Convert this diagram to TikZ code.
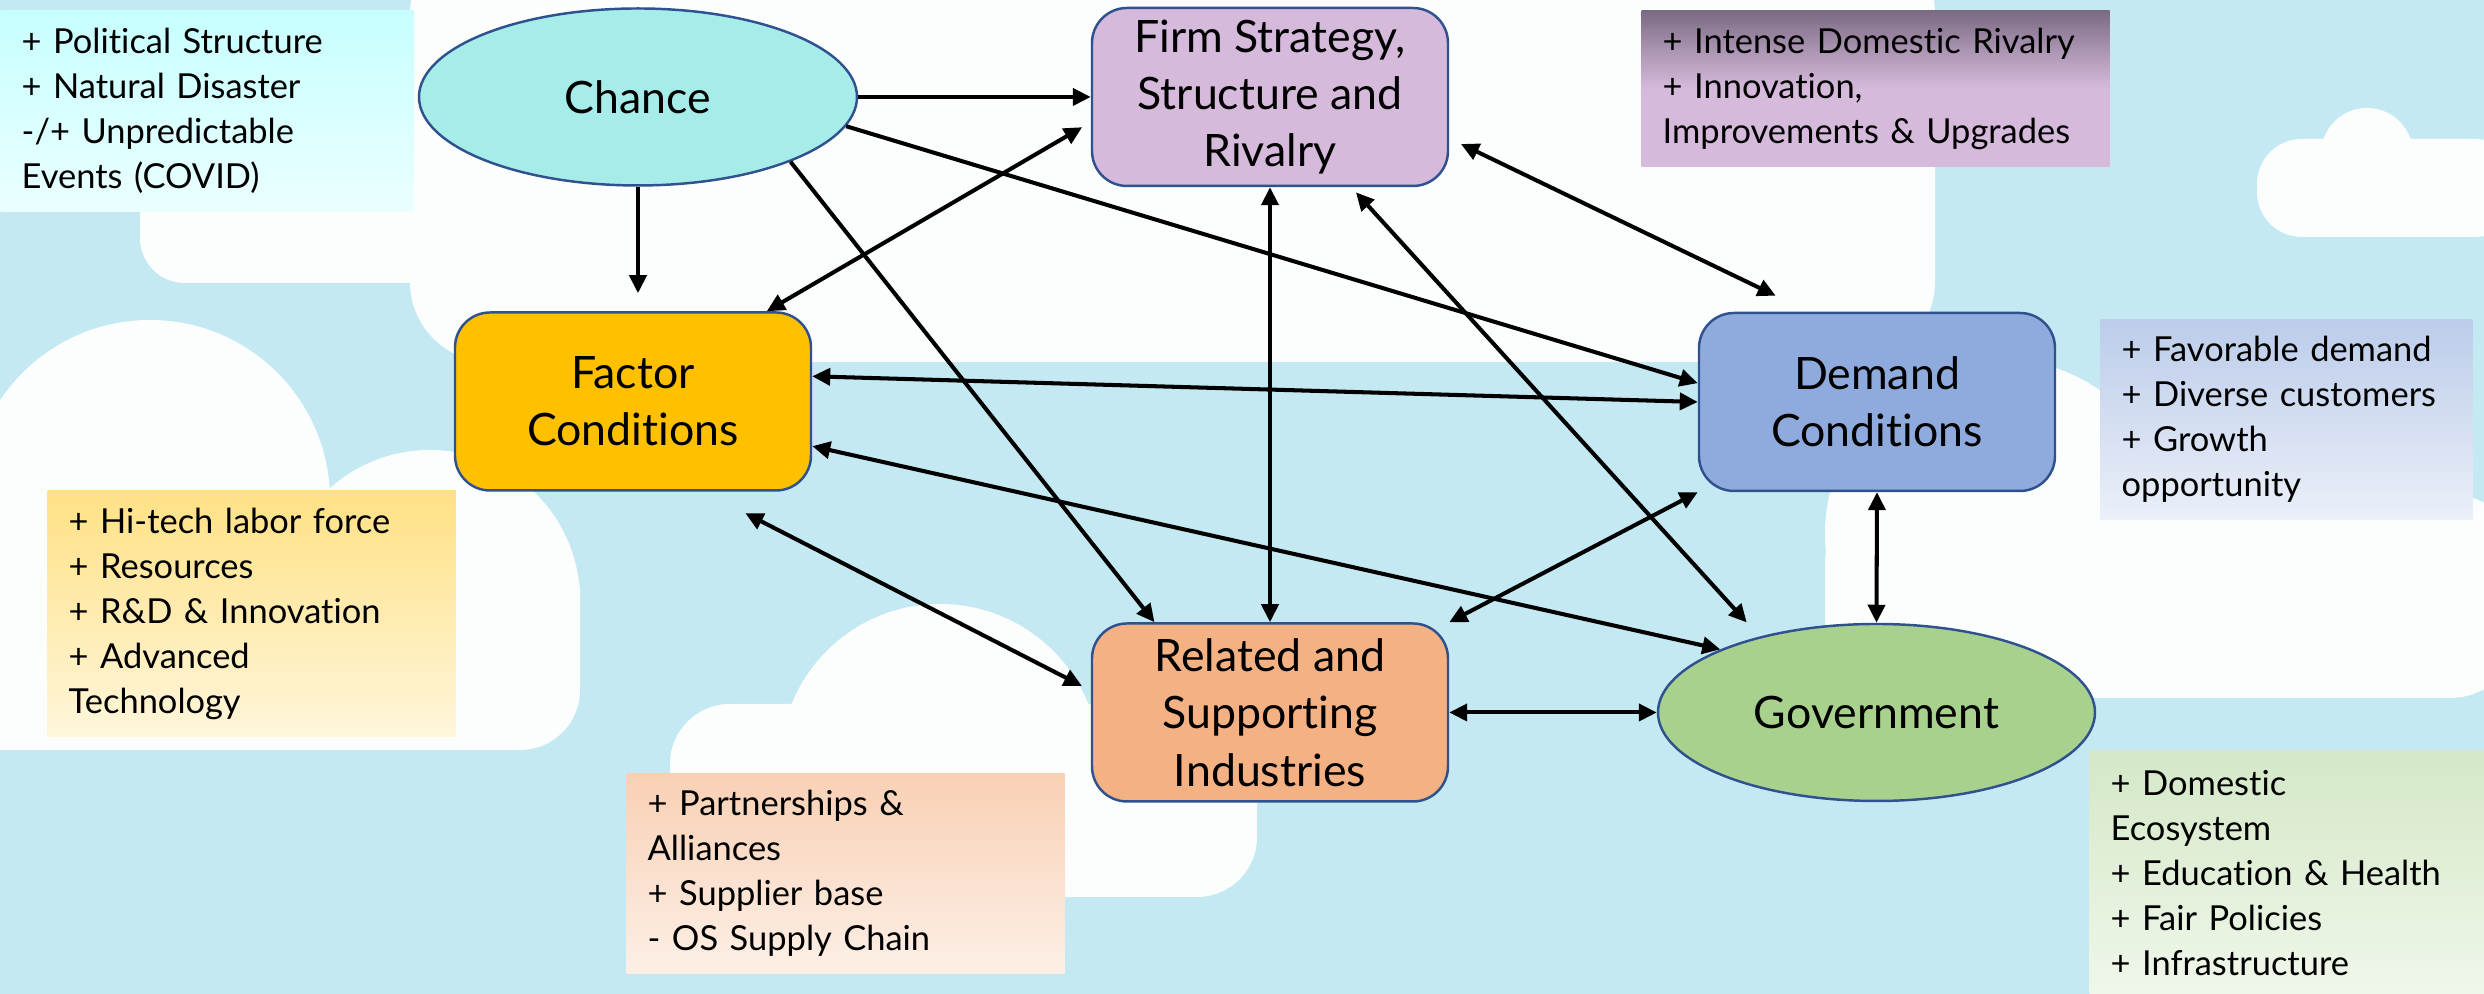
\documentclass[tikz,border=0pt]{standalone}
\usepackage{fontspec}
\setmainfont{Lato}[Ligatures=NoCommon]
\usepackage{tikz}
\usetikzlibrary{
  arrows.meta,
  shapes.geometric
}
\usepackage{xcolor}

\definecolor{skyblue}{RGB}{196,233,242}
\definecolor{cloudwhite}{RGB}{252,254,254}
\definecolor{edgeblue}{RGB}{47,82,143}
\definecolor{chanceaqua}{RGB}{166,236,233}
\definecolor{firmlilac}{RGB}{213,186,220}
\definecolor{firmdark}{RGB}{122,106,130}
\definecolor{factorgold}{RGB}{255,192,0}
\definecolor{demandblue}{RGB}{143,170,220}
\definecolor{relatedpeach}{RGB}{244,177,131}
\definecolor{govgreen}{RGB}{169,209,142}

% dark band along the top of the rivalry note, fading out by about a third
\pgfdeclareverticalshading{firmshade}{100bp}{
  color(0bp)=(firmlilac); color(50bp)=(firmlilac);
  color(62bp)=(firmlilac!55!firmdark); color(75bp)=(firmdark); color(100bp)=(firmdark)}

\newcommand\blockfont{\fontsize{12.7}{16.3}\selectfont}
\newcommand\notefont{\fontsize{9.8}{12.8}\selectfont}

\begin{document}
\begin{tikzpicture}[
  block/.style={draw=edgeblue, line width=0.7pt, rounded corners=0.35cm,
                minimum width=3.56cm, minimum height=1.78cm, inner sep=2pt,
                fill=#1, align=center, font=\blockfont},
  oval/.style={ellipse, draw=edgeblue, line width=0.7pt, minimum width=4.38cm,
               minimum height=1.77cm, fill=#1, font=\blockfont},
  note/.style={anchor=north west, inner xsep=0.21cm, inner ysep=0pt,
               align=left, font=\notefont},
  cloud/.style={fill=cloudwhite},
  arrow/.style={-{Triangle[length=0.18cm,width=0.17cm]}, line width=1.15pt},
  twoway/.style={{Triangle[length=0.18cm,width=0.17cm]}-{Triangle[length=0.18cm,width=0.17cm]},
                 line width=1.15pt},
]
  \useasboundingbox (0,0) rectangle (24.84,9.94);
  \fill[skyblue] (0,0) rectangle (24.84,9.94);

  % Clouds behind everything
  \fill[cloud, rounded corners=0.8cm] (4.1,10.6) rectangle (19.35,6.32);
  \fill[cloud] (1.5,4.94) circle (1.8) (4.3,3.94) circle (1.5);
  \fill[cloud, rounded corners=0.6cm] (-0.6,2.44) rectangle (5.8,4.6);
  \fill[cloud, rounded corners=0.45cm] (1.4,7.11) rectangle (4.6,8.6);
  \fill[cloud] (9.4,2.3) circle (1.6);
  \fill[cloud, rounded corners=0.6cm] (6.7,0.97) rectangle (12.57,2.9);
  \fill[cloud] (20.0,4.6) circle (1.75) (23.3,4.5) circle (1.3);
  \fill[cloud, rounded corners=0.7cm] (18.25,2.96) rectangle (25.2,5.0);
  \fill[cloud] (23.67,8.4) circle (0.46);
  \fill[cloud, rounded corners=0.45cm] (22.57,7.57) rectangle (25.2,8.55);

  % Side notes
  \node[note, top color=cyan!22, bottom color=cyan!8, text width=3.71cm,
        minimum height=2.01cm] (chancenote) at (0,9.84)
    {+ Political Structure\\+ Natural Disaster\\-/+ Unpredictable\\Events (COVID)};
  \node[note, shading=firmshade, text width=4.26cm,
        minimum height=1.56cm] (firmnote) at (16.41,9.84)
    {+ Intense Domestic Rivalry\\+ Innovation,\\Improvements \& Upgrades};
  \node[note, top color=demandblue!60, bottom color=demandblue!18, text width=3.30cm,
        minimum height=2.00cm] (demandnote) at (21.00,6.75)
    {+ Favorable demand\\+ Diverse customers\\+ Growth\\opportunity};
  \node[note, top color=factorgold!48, bottom color=factorgold!14, text width=3.66cm,
        minimum height=2.46cm] (factornote) at (0.47,5.04)
    {+ Hi-tech labor force\\+ Resources\\+ R\&D \& Innovation\\+ Advanced\\Technology};
  \node[note, top color=relatedpeach!60, bottom color=relatedpeach!20, text width=3.96cm,
        minimum height=2.00cm] (relatednote) at (6.26,2.21)
    {+ Partnerships \&\\Alliances\\+ Supplier base\\- OS Supply Chain};
  \node[note, top color=govgreen!50, bottom color=govgreen!18, text width=3.53cm,
        minimum height=2.44cm] (govnote) at (20.89,2.44)
    {+ Domestic\\Ecosystem\\+ Education \& Health\\+ Fair Policies\\+ Infrastructure};

  % The six determinants
  \node[oval=chanceaqua] (chance) at (6.38,8.97) {Chance};
  \node[block=firmlilac] (firm) at (12.70,8.97) {Firm Strategy,\\Structure and\\Rivalry};
  \node[block=factorgold] (factor) at (6.33,5.925) {Factor\\Conditions};
  \node[block=demandblue] (demand) at (18.77,5.92) {Demand\\Conditions};
  \node[block=relatedpeach] (related) at (12.70,2.815) {Related and\\Supporting\\Industries};
  \node[oval=govgreen, minimum width=4.37cm] (gov) at (18.765,2.815) {Government};

  % Chance only pushes outward
  \draw[arrow] (chance.east) -- (firm.west);
  \draw[arrow, shorten >=0.18cm] (chance.south) -- (chance.south |- factor.north);
  \draw[arrow] (chance.-23) -- (related.142);
  \draw[arrow] (chance.-8) -- (demand.174);

  % Mutual links
  \draw[twoway, shorten >=0.1cm] (factor.34) -- (firm.188);
  \draw[twoway] (factor.8) -- (demand.west);
  \draw[twoway] (factor.-14) -- (gov.158);
  \draw[twoway, shorten <=0.47cm, shorten >=0.1cm] (factor.-52) -- (related.173);
  \draw[twoway] (firm.south) -- (related.north);
  \draw[twoway, shorten <=0.07cm, shorten >=0.19cm] (firm.-48) -- (gov.147);
  \draw[twoway, shorten <=0.13cm, shorten >=0.37cm] (firm.-13) -- (demand.127);
  \draw[twoway] (related.north east) -- (demand.south west);
  \draw[twoway] (related.east) -- (gov.west);
  \draw[twoway] (demand.south) -- (gov.north);
\end{tikzpicture}
\end{document}
